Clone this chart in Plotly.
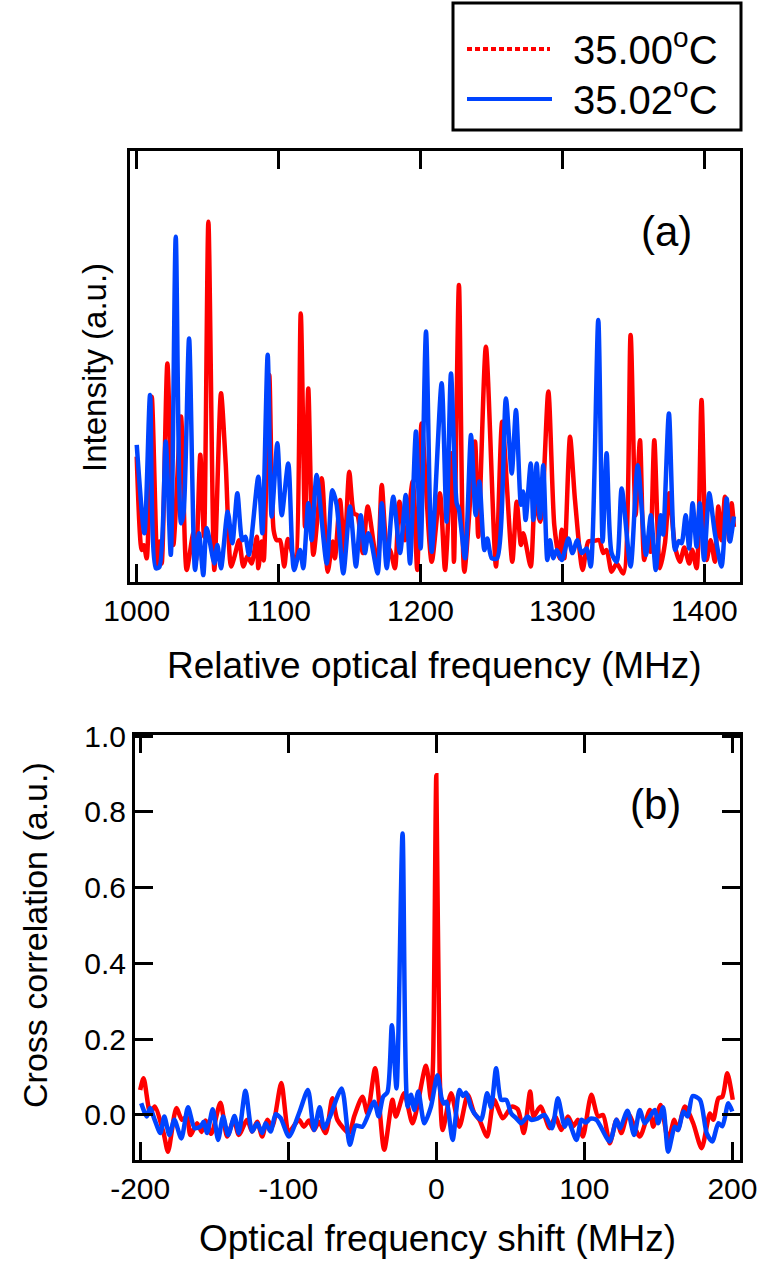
import plotly.graph_objects as go

# ---------------- data ----------------
# Panel (a): relative optical frequency (MHz) vs intensity (a.u., 0-100 scale)
freq_red = [1000, 1003.5, 1005, 1007, 1010.6, 1014.5, 1015.9, 1017.6, 1021.6, 1025.8, 1031.2, 1035.2,
            1039.9, 1041.8, 1044.8, 1047.4, 1050.5, 1054.7, 1059.4, 1062.7, 1066.5, 1069, 1072.1, 1075.1,
            1078, 1081, 1084.6, 1085.7, 1088.1, 1089.5, 1093.4, 1096.5, 1098.7, 1101, 1104, 1106.5, 1111.6,
            1115.6, 1118.6, 1120.9, 1124.5, 1130.4, 1134.6, 1138.1, 1139.7, 1143.3, 1146.3, 1149.8, 1153.1,
            1155.5, 1159.3, 1162.8, 1169.6, 1172.7, 1176, 1179, 1182, 1185.1, 1189.1, 1194.5, 1197.7, 1200.8,
            1207.9, 1213.7, 1217.3, 1222, 1223.6, 1227.1, 1230.9, 1238.4, 1240.7, 1246.1, 1253.2, 1257.6,
            1264.7, 1267.8, 1270.8, 1272.5, 1277.7, 1280.7, 1284.5, 1290.1, 1294.3, 1297.8, 1299.5, 1301.4,
            1305.4, 1308.9, 1314.3, 1318.3, 1322, 1326, 1328.8, 1331.2, 1334.7, 1338.3, 1343, 1348.1, 1351.6,
            1354.7, 1357.7, 1360.5, 1362, 1364.8, 1368.8, 1372.3, 1375.3, 1379.5, 1382.9, 1385.9, 1389.4,
            1391.5, 1394.6, 1398.1, 1401.7, 1404.5, 1407.5, 1409.9, 1412.2, 1414.6, 1417.6, 1419.3, 1420.9]
int_red = [29.1, 7.4, 8.5, 5.5, 43, 3.9, 9.4, 4.3, 50.7, 8.6, 38.4, 2.8,
           11.3, 5.1, 29.5, 10.5, 83.6, 2.8, 43.8, 27.5, 3.6, 6, 9.7, 3.6,
           6, 4.3, 10.5, 3.2, 9.4, 5, 48, 12, 9.7, 9.7, 3.6, 10, 4.7,
           62.3, 12.8, 44.9, 6.3, 24.1, 2.4, 9.4, 5.5, 19.0, 6.7, 25.6, 15.9,
           15.5, 6.7, 17.5, 3.9, 22.5, 9, 7, 3.2, 18.6, 9.7, 23.3, 2.8, 36.8,
           4.7, 20.6, 2.8, 29.9, 4.7, 68.9, 2.4, 32.6, 10.5, 54.6, 3.6, 37.2,
           4.7, 18.6, 8.6, 11.3, 3.6, 18.3, 14, 44.2, 13.2, 5.5, 12.1, 5.5,
           33.7, 19.0, 2.8, 9.4, 9.5, 9.7, 6.7, 7.4, 2.4, 4.3, 2.0, 57.3, 15.5,
           32.9, 5.1, 10.5, 7, 32.9, 3.2, 9, 20.6, 8, 4.7, 8, 4.3,
           7.5, 3.2, 42.2, 5.1, 9.7, 4.7, 17.5, 9.7, 19.8, 9.7, 18.3, 12.8]

freq_blue = [1000, 1005.4, 1009.4, 1013.4, 1016, 1020.4, 1024, 1027.5, 1031.2, 1033, 1036.9, 1041.1,
             1043.9, 1046.9, 1049.3, 1054.7, 1056.8, 1059.4, 1064.1, 1067.4, 1070.9, 1074.4, 1076.5, 1079.1,
             1085.7, 1088.5, 1092.3, 1095.1, 1099.1, 1102.2, 1106.8, 1110.9, 1115.1, 1117.4, 1120.9, 1123.3,
             1126.8, 1133.9, 1137.9, 1140.9, 1145.6, 1150.3, 1154.5, 1157.9, 1160.9, 1163.2, 1165.5, 1169.8,
             1172.7, 1176.2, 1180.8, 1185.6, 1189.6, 1192.6, 1196.8, 1200.1, 1203.9, 1207.9, 1214.9, 1218.4,
             1221.5, 1225.5, 1227, 1231.4, 1235.6, 1238.9, 1241.5, 1245, 1247.1, 1250.2, 1254, 1260.2, 1264.3,
             1267.3, 1270.8, 1272.4, 1274.1, 1277.7, 1279.5, 1281.9, 1284.2, 1286.5, 1289.4, 1291.3, 1293.6,
             1296, 1299.6, 1304.2, 1307.1, 1310.5, 1313.6, 1317.2, 1320, 1325.3, 1328.4, 1331.2, 1334.7,
             1338.3, 1341.8, 1348.1, 1353.1, 1358.9, 1362.4, 1365.8, 1369.3, 1371, 1375.1, 1379.4, 1382,
             1384, 1386.9, 1389.4, 1391.8, 1394.6, 1396.9, 1399.9, 1403.5, 1407.5, 1412.2, 1415.8, 1418.1,
             1420.9]
int_blue = [31.8, 11.3, 43.4, 3.2, 3.5, 32.6, 6.3, 80.1, 13.6, 16, 56.5, 2.8,
            11.3, 1.6, 12.5, 4.3, 8.6, 3.2, 16.3, 9.0, 20.6, 9.7, 10.5, 6.3,
            24.4, 11.3, 52.7, 15.2, 32.2, 15.5, 27.5, 2.8, 7.4, 3.2, 18.3, 9.7,
            24.8, 4.3, 21.3, 17.9, 2.0, 17.5, 3.6, 15.5, 6.7, 11.3, 9, 2.0,
            18.3, 3.2, 19.8, 6.7, 20.2, 4.3, 34.9, 7.8, 58.1, 7.0, 46.1, 14.0,
            48.4, 18.3, 17, 5.5, 34.1, 15.5, 23.3, 7.4, 10.1, 5.5, 5.5, 42.6, 25.2,
            39.9, 17.9, 21, 14.4, 27.5, 14.4, 27.5, 14.8, 27.1, 5.1, 9.7, 5.5,
            7.4, 5.1, 10.1, 6.7, 9.7, 6.7, 7.8, 3.6, 60.8, 9.4, 29.9, 6.7,
            4.7, 21.7, 3.6, 27.1, 6.3, 15.5, 2.8, 15.5, 11, 39.1, 7.4, 9.5,
            9, 15.5, 7.8, 18.3, 8.2, 18.3, 5.1, 20.6, 11.3, 3.6, 19.4, 9.4,
            15.2]

# Panel (b): optical frequency shift (MHz) vs cross correlation (a.u.)
shift_red = [-200, -197.7, -193.2, -190.2, -184.2, -181.2, -175.6, -171.8, -168.5, -166.1, -161.6, -158.5,
             -155.9, -152, -145.8, -141.3, -136.8, -133.4, -127.8, -124.4, -121, -117.6, -114.2, -110.8,
             -104.7, -99.5, -92.8, -89.4, -86, -82.6, -79.2, -74.7, -70.2, -66.8, -58.9, -55.5, -49.9,
             -46.5, -41.3, -35.2, -29.6, -27.3, -21.7, -16, -7, -3.6, -2.2, 0, 2.2, 4.3, 10, 15.6, 21.2,
             25.7, 29.1, 34.3, 39, 44.9, 51, 55, 59.1, 63.4, 65.7, 70.4, 76.5, 80.4, 84.4, 88.9, 92.5,
             95.7, 99, 104.7, 109.2, 112.6, 117.1, 121.7, 125, 129.5, 137.4, 144.2, 146.5, 151.5, 156.6,
             160.7, 163, 167.9, 173.5, 179.2, 184.8, 187.1, 190.5, 193.2, 196.5, 200.2]
corr_red = [0.066, 0.097, 0.004, 0.022, -0.048, -0.097, 0.018, -0.013, -0.005, -0.053, -0.022, -0.045,
            -0.015, -0.05, 0.032, -0.057, -0.013, -0.053, -0.013, -0.044, -0.018, -0.057, -0.013, -0.031,
            0.084, -0.044, -0.013, -0.031, -0.015, -0.040, -0.018, -0.048, 0.044, -0.013, -0.048, -0.004, 0.048,
            0.004, 0.123, -0.092, 0.040, -0.004, 0.057, -0.022, 0.13, 0.04, 0.14, 0.897, 0.12, -0.04, 0.057, -0.031, 0.053,
            0.004, -0.013, -0.057, 0.04, -0.009, 0.022, 0.015, -0.048, 0.062, -0.004, 0.022, -0.035, -0.004, -0.040, -0.004, -0.03,
            -0.013, -0.057, 0.053, -0.004, 0.0, -0.075, -0.013, -0.048, 0.004, -0.057, 0.013, -0.031, 0.026, -0.066,
            -0.013, -0.040, 0.022, -0.022, -0.088, 0.004, -0.013, 0.044, 0.048, 0.110, 0.040]

shift_blue = [-199.3, -195.5, -193.3, -190.2, -186.4, -183.7, -180.3, -176.9, -172.2, -167.7, -163.2, -159.3,
              -157.1, -154.8, -151, -147.4, -144, -140.6, -136.3, -133.4, -128.9, -124.4, -121, -117.6,
              -115.3, -111.9, -108.5, -105.2, -99.5, -92.3, -86.7, -82.6, -78.8, -75.8, -71.8, -63.9, -58.4,
              -54.4, -49.9, -42, -39, -35.9, -33, -30, -26.9, -22.8, -19.4, -17.1, -14.9, -12.2, -8.1, -3.6,
              0.7, 3.5, 5, 6.8, 11, 15.6, 18, 20.1, 23.5, 25.7, 30.2, 34.3, 37, 40.4, 43.8, 47.2, 50.6, 54,
              57.3, 61.8, 64.1, 68.6, 73.1, 78.1, 82.1, 86.7, 88.9, 94.6, 98, 101, 104, 108.1, 117.1, 121.7,
              124, 129.1, 133.6, 137.4, 140.8, 147.6, 149.8, 153.2, 156.6, 161.1, 163.4, 166.8, 169.7, 173.1,
              178.1, 182.6, 186.4, 190.5, 193.2, 197.2, 199.9]
corr_blue = [0.031, -0.004, 0.018, -0.013, -0.048, -0.004, -0.053, -0.013, -0.062, 0.020, -0.035, -0.031,
             -0.018, -0.048, 0.015, -0.066, -0.004, -0.053, -0.003, -0.048, 0.064, -0.044, -0.022, -0.048,
             -0.022, -0.044, 0.002, -0.008, -0.057, 0.009, 0.066, -0.040, 0.020, -0.035, -0.004, 0.070, -0.079,
             -0.028, -0.031, 0.035, -0.004, 0.048, 0.06, 0.237, 0.070, 0.743, 0.022, 0.053, 0.013, 0.062, -0.022, 0.022,
             0.105, 0.045, 0.03, 0.035, -0.066, 0.066, 0.05, 0.059, 0.02, 0.004, -0.013, 0.057, 0.02, 0.123, 0.04, 0.040, 0.004, -0.009,
             -0.022, -0.004, -0.013, -0.009, 0.0, -0.035, 0.044, -0.031, -0.013, -0.066, -0.013, -0.02, -0.01, -0.013, -0.070, -0.013,
             -0.035, 0.011, -0.053, 0.013, -0.022, 0.013, -0.022, 0.020, -0.097, -0.031, -0.040, 0.009, -0.004, 0.050,
             0.040, -0.048, -0.070, -0.022, -0.03, 0.031, 0.009]

ticks_a = [1000, 1100, 1200, 1300, 1400]
ticks_b = [-200, -100, 0, 100, 200]
ticktext_b = ["-200", "-100", "0", "100", "200"]
ticks_by = [0.0, 0.2, 0.4, 0.6, 0.8, 1.0]
legend_labels = ["35.00<sup>o</sup>C", "35.02<sup>o</sup>C"]

# ---------------- styling ----------------
W, H = 763, 1262
RED = "#FF0000"
BLUE = "#0044FF"
FONT = "Liberation Sans, Arial, Helvetica, sans-serif"


def px(x):
    return x / W


def py(y):
    return 1 - y / H


fig = go.Figure()
line_red = dict(color=RED, width=4.5, shape="spline", smoothing=0.7)
line_blue = dict(color=BLUE, width=4.5, shape="spline", smoothing=0.7)
fig.add_trace(go.Scatter(x=freq_red, y=int_red, mode="lines", line=line_red,
                         name="35.00 oC", showlegend=False, xaxis="x", yaxis="y"))
fig.add_trace(go.Scatter(x=freq_blue, y=int_blue, mode="lines", line=line_blue,
                         name="35.02 oC", showlegend=False, xaxis="x", yaxis="y"))
fig.add_trace(go.Scatter(x=shift_red, y=corr_red, mode="lines", line=line_red,
                         name="35.00 oC", showlegend=False, xaxis="x2", yaxis="y2"))
fig.add_trace(go.Scatter(x=shift_blue, y=corr_blue, mode="lines", line=line_blue,
                         name="35.02 oC", showlegend=False, xaxis="x2", yaxis="y2"))

common = dict(showline=True, linecolor="black", linewidth=3, mirror="allticks",
              ticks="inside", ticklen=18, tickwidth=3, tickcolor="black",
              showgrid=False, zeroline=False, automargin=False,
              tickfont=dict(size=30, color="black", family=FONT))

fig.update_layout(
    template="none",
    width=W, height=H,
    margin=dict(l=0, r=0, t=0, b=0, pad=0, autoexpand=False),
    paper_bgcolor="white", plot_bgcolor="white",
    showlegend=False,
    xaxis=dict(domain=[px(129.5), px(740)], range=[994.9, 1425.2], tickvals=ticks_a,
               anchor="y", **common),
    yaxis=dict(domain=[py(582), py(151)], range=[0, 100], anchor="x", automargin=False,
               showline=True, linecolor="black", linewidth=3, mirror=True,
               ticks="", showticklabels=False, showgrid=False, zeroline=False),
    xaxis2=dict(domain=[px(135), px(740)], range=[-203.5, 205.1], tickvals=ticks_b,
                ticktext=ticktext_b, anchor="y2", **common),
    yaxis2=dict(domain=[py(1160), py(735)], range=[-0.119, 1.003], tickvals=ticks_by,
                tickformat=".1f", anchor="x2", **common),
)

ann = []
title_font = dict(size=37, color="black", family=FONT)
ann.append(dict(text="Relative optical frequency (MHz)", x=px(434), y=py(665), xref="paper", yref="paper",
                xanchor="center", yanchor="middle", showarrow=False, font=title_font))
ann.append(dict(text="Optical frequency shift (MHz)", x=px(437), y=py(1238), xref="paper", yref="paper",
                xanchor="center", yanchor="middle", showarrow=False, font=title_font))
ann.append(dict(text="Intensity (a.u.)", x=px(95), y=py(368), xref="paper", yref="paper", textangle=-90,
                xanchor="center", yanchor="middle", showarrow=False, font=dict(size=33, color="black", family=FONT)))
ann.append(dict(text="Cross correlation (a.u.)", x=px(35), y=py(935), xref="paper", yref="paper", textangle=-90,
                xanchor="center", yanchor="middle", showarrow=False, font=dict(size=34, color="black", family=FONT)))
ann.append(dict(text="(a)", x=px(666), y=py(231), xref="paper", yref="paper",
                xanchor="center", yanchor="middle", showarrow=False, font=dict(size=42, color="black", family=FONT)))
ann.append(dict(text="(b)", x=px(655), y=py(804), xref="paper", yref="paper",
                xanchor="center", yanchor="middle", showarrow=False, font=dict(size=42, color="black", family=FONT)))
# legend text
ann.append(dict(text=legend_labels[0], x=px(571), y=py(47), xref="paper", yref="paper",
                xanchor="left", yanchor="middle", showarrow=False, font=dict(size=40, color="black", family=FONT)))
ann.append(dict(text=legend_labels[1], x=px(571), y=py(97), xref="paper", yref="paper",
                xanchor="left", yanchor="middle", showarrow=False, font=dict(size=40, color="black", family=FONT)))

shapes = [
    dict(type="rect", xref="paper", yref="paper", x0=px(453), x1=px(741), y0=py(130), y1=py(3),
         line=dict(color="black", width=3), fillcolor="rgba(0,0,0,0)"),
    dict(type="line", xref="paper", yref="paper", x0=px(467), x1=px(550), y0=py(49), y1=py(49),
         line=dict(color=RED, width=4, dash="5px,3px")),
    dict(type="line", xref="paper", yref="paper", x0=px(467), x1=px(552), y0=py(99), y1=py(99),
         line=dict(color=BLUE, width=4)),
]
fig.update_layout(annotations=ann, shapes=shapes)

fig.write_html("out.html")
